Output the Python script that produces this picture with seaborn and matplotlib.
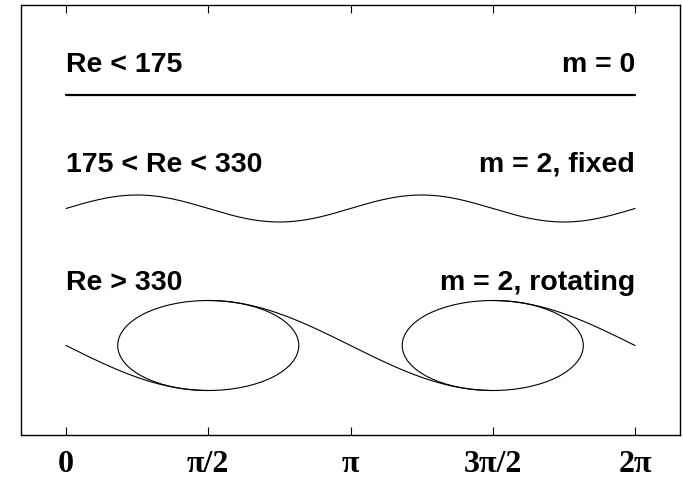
import numpy as np
import pandas as pd
import matplotlib
matplotlib.use("Agg")
import matplotlib.pyplot as plt
from matplotlib.patches import Ellipse
import seaborn as sns

# ---- values (y in pixel-like units, 0 = axis bottom) ----
tick_positions = [0, np.pi / 2, np.pi, 3 * np.pi / 2, 2 * np.pi]
tick_labels = ["0", "π/2", "π", "3π/2", "2π"]

left_labels = ["Re < 175", "175 < Re < 330", "Re > 330"]
right_labels = ["m = 0", "m = 2, fixed", "m = 2, rotating"]
label_baselines = [363, 263, 145]

flat_level = 340          # m = 0 : straight line
fixed_mid = 226.5         # m = 2 fixed : standing wave
fixed_amp = 13.5
rot_mid = 89.5            # m = 2 rotating : wave wrapped round two loops
rot_amp = 45
loop_centers = [np.pi / 2, 3 * np.pi / 2]
loop_width = 2.0          # radians
loop_height = 90

sns.set_style("white")
plt.rcParams["font.family"] = ["Liberation Sans", "DejaVu Sans"]

fig = plt.figure(figsize=(6.83, 4.82), dpi=100)
ax = fig.add_axes([21 / 683, (482 - 435) / 482, (680 - 21) / 683, (435 - 5) / 482])

x = np.linspace(0, 2 * np.pi, 721)

# m = 0
flat = pd.DataFrame({"x": [0, 2 * np.pi], "y": [flat_level, flat_level]})
sns.lineplot(data=flat, x="x", y="y", color="black", linewidth=1.6, ax=ax)

# m = 2, fixed
fixed = pd.DataFrame({"x": x, "y": fixed_mid + fixed_amp * np.sin(2 * x)})
sns.lineplot(data=fixed, x="x", y="y", color="black", linewidth=0.8, ax=ax, sort=False)

# m = 2, rotating: pieces between loops
segments = [(0, np.pi / 2, -1), (np.pi / 2, 3 * np.pi / 2, 1), (3 * np.pi / 2, 2 * np.pi, -1)]
for a, b, s in segments:
    xs = x[(x >= a - 1e-9) & (x <= b + 1e-9)]
    seg = pd.DataFrame({"x": xs, "y": rot_mid + s * rot_amp * np.sin(xs)})
    sns.lineplot(data=seg, x="x", y="y", color="black", linewidth=0.8, ax=ax, sort=False)

for c in loop_centers:
    ax.add_patch(Ellipse((c, rot_mid), loop_width, loop_height, fill=False,
                         edgecolor="black", linewidth=0.8))

for lt, rt, yb in zip(left_labels, right_labels, label_baselines):
    ax.text(0, yb, lt, ha="left", va="baseline", fontsize=20.5, fontweight="bold", color="black")
    ax.text(2 * np.pi, yb, rt, ha="right", va="baseline", fontsize=20.5, fontweight="bold", color="black")

ax.set_xlim((21 - 66) / 90.56, (680 - 66) / 90.56)
ax.set_ylim(0, 430)
ax.set_xticks(tick_positions)
ax.set_xticklabels(tick_labels, fontfamily=["Liberation Serif", "DejaVu Serif"],
                   fontweight="bold", fontsize=23)
ax.set_yticks([])
ax.tick_params(axis="x", direction="in", length=6, width=0.8, top=True, bottom=True,
               labeltop=False, pad=11, colors="black")
ax.set_xlabel("")
ax.set_ylabel("")
for sp in ax.spines.values():
    sp.set_visible(True)
    sp.set_color("black")
    sp.set_linewidth(1.0)

fig.savefig("out.png", dpi=100)
